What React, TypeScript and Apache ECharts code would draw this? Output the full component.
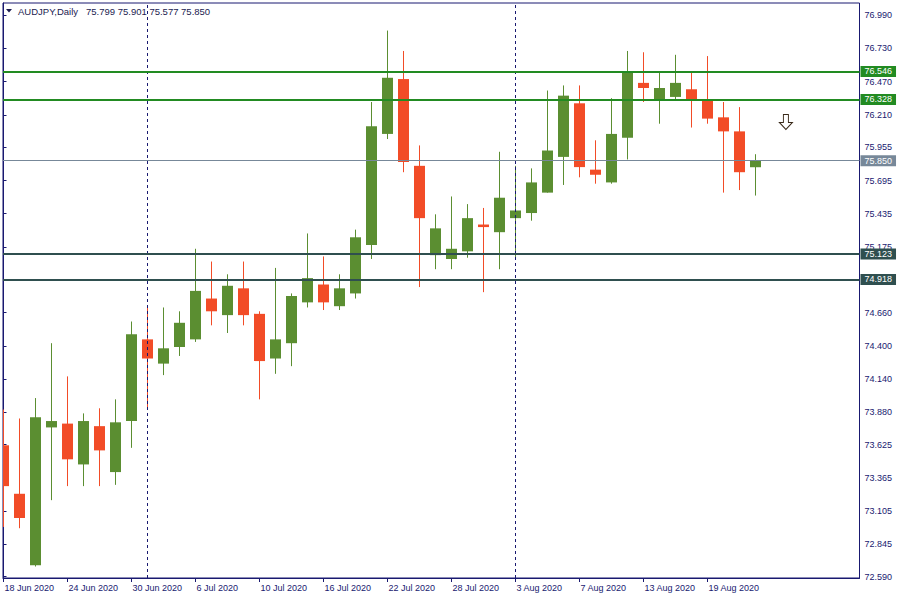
import React, { useEffect, useRef } from "react";
import * as echarts from "echarts";

const dates = [
  "18 Jun 2020", "19 Jun 2020", "22 Jun 2020", "23 Jun 2020", "24 Jun 2020", "25 Jun 2020", "26 Jun 2020",
  "29 Jun 2020", "30 Jun 2020", "1 Jul 2020", "2 Jul 2020", "3 Jul 2020",
  "6 Jul 2020", "7 Jul 2020", "8 Jul 2020", "9 Jul 2020", "10 Jul 2020",
  "13 Jul 2020", "14 Jul 2020", "15 Jul 2020", "16 Jul 2020", "17 Jul 2020",
  "20 Jul 2020", "21 Jul 2020", "22 Jul 2020", "23 Jul 2020", "24 Jul 2020",
  "27 Jul 2020", "28 Jul 2020", "29 Jul 2020", "30 Jul 2020", "31 Jul 2020",
  "3 Aug 2020", "4 Aug 2020", "5 Aug 2020", "6 Aug 2020", "7 Aug 2020",
  "10 Aug 2020", "11 Aug 2020", "12 Aug 2020", "13 Aug 2020", "14 Aug 2020",
  "17 Aug 2020", "18 Aug 2020", "19 Aug 2020", "20 Aug 2020", "21 Aug 2020",
  "24 Aug 2020",
];

const opens = [73.62, 73.24, 72.68, 73.76, 73.79, 73.47, 73.77, 73.41, 73.81, 74.45, 74.26, 74.39, 74.45, 74.77, 74.64, 74.85, 74.65, 74.30, 74.42, 74.74, 74.88, 74.71, 74.81, 75.19, 76.06, 76.49, 75.81, 75.11, 75.08, 75.14, 75.35, 75.29, 75.40, 75.44, 75.60, 75.88, 76.30, 75.78, 75.68, 76.03, 76.46, 76.33, 76.35, 76.41, 76.32, 76.19, 76.08, 75.799];
const highs = [73.90, 73.83, 73.99, 74.42, 74.16, 73.87, 73.91, 73.98, 74.59, 74.70, 74.70, 74.67, 75.16, 75.06, 74.96, 75.06, 74.67, 75.01, 74.81, 75.28, 75.10, 74.96, 75.31, 76.31, 76.87, 76.71, 75.97, 75.43, 75.57, 75.51, 75.48, 75.92, 75.81, 75.79, 76.40, 76.44, 76.44, 76.01, 76.34, 76.71, 76.70, 76.55, 76.68, 76.55, 76.67, 76.31, 76.27, 75.901];
const lows = [72.98, 72.97, 72.67, 73.19, 73.30, 73.30, 73.30, 73.31, 73.60, 73.91, 74.17, 74.32, 74.43, 74.56, 74.50, 74.56, 73.98, 74.18, 74.24, 74.70, 74.68, 74.68, 74.77, 75.08, 76.02, 75.76, 74.86, 75.00, 75.00, 75.09, 74.82, 75.00, 75.09, 75.38, 75.60, 75.66, 75.72, 75.67, 75.67, 75.86, 76.31, 76.14, 76.32, 76.11, 76.14, 75.60, 75.62, 75.577];
const closes = [73.30, 73.05, 73.84, 73.81, 73.51, 73.81, 73.58, 73.80, 74.49, 74.30, 74.38, 74.58, 74.83, 74.67, 74.87, 74.64, 74.28, 74.45, 74.79, 74.93, 74.74, 74.85, 75.25, 76.12, 76.50, 75.84, 75.40, 75.32, 75.16, 75.40, 75.33, 75.56, 75.46, 75.68, 75.93, 76.36, 75.80, 75.74, 76.06, 76.54, 76.42, 76.42, 76.46, 76.33, 76.18, 76.08, 75.76, 75.850];

const priceTicks = [72.59, 72.845, 73.105, 73.365, 73.625, 73.88, 74.14, 74.4, 74.66, 74.915, 75.175, 75.435, 75.695, 75.955, 76.21, 76.47, 76.73, 76.99];
const dateTickIdx = [0, 4, 8, 12, 16, 20, 24, 28, 32, 36, 40, 44];
const resistanceLevels = [76.546, 76.328];
const supportLevels = [75.123, 74.918];
const lastPrice = 75.85;
const separatorIdx = [9, 32];
const sellArrow = [48.9, 76.154];

const GREEN = "#5b8e31";
const RED = "#f24c27";
const NAVY = "#191970";
const FONT = "Liberation Sans";

function hLine(v: number, color: string, width: number) {
  return {
    yAxis: v,
    lineStyle: { color, width, type: "solid" },
    label: {
      show: true,
      position: "end",
      distance: 1,
      formatter: v.toFixed(3),
      backgroundColor: color,
      color: "#ffffff",
      padding: [1, 4, 1, 4],
      fontSize: 9,
      lineHeight: 9,
      fontFamily: FONT,
    },
  };
}

export default function App() {
  const ref = useRef<HTMLDivElement>(null);
  useEffect(() => {
    if (!ref.current) return;
    const chart = echarts.init(ref.current, null, { renderer: "svg" });
    const candleData = opens.map((o, i) => [i, o, closes[i], lows[i], highs[i]]);
    const option: any = {
      animation: false,
      backgroundColor: "#ffffff",
      grid: {
        left: 3,
        top: 3,
        right: 40.5,
        bottom: 22,
        show: true,
        borderColor: NAVY,
        borderWidth: 1,
        backgroundColor: "#ffffff",
      },
      xAxis: {
        type: "value",
        min: -0.03125,
        max: 53.5,
        axisLine: { show: true, lineStyle: { color: NAVY, width: 1 } },
        axisTick: { show: true, length: 4, lineStyle: { color: NAVY }, customValues: dateTickIdx },
        axisLabel: {
          customValues: dateTickIdx,
          formatter: (v: number) => dates[Math.round(v)] || "",
          align: "left",
          margin: 5,
          padding: [0, 0, 0, 1],
          color: NAVY,
          fontSize: 9,
          fontFamily: FONT,
        },
        splitLine: { show: false },
      },
      yAxis: {
        type: "value",
        position: "right",
        min: 72.58,
        max: 77.086,
        axisLine: { show: true, lineStyle: { color: NAVY, width: 1 } },
        axisTick: { show: true, length: 3, lineStyle: { color: NAVY }, customValues: priceTicks },
        axisLabel: {
          customValues: priceTicks,
          formatter: (v: number) => v.toFixed(3),
          margin: 5,
          color: NAVY,
          fontSize: 9,
          fontFamily: FONT,
        },
        splitLine: { show: false },
      },
      graphic: [
        { type: "polygon", shape: { points: [[6, 9], [12, 9], [9, 12.5]] }, style: { fill: "#1b1b50" } },
        { type: "text", x: 18, y: 11, style: { text: "AUDJPY,Daily", fill: "#1b1b50", font: `9.5px "${FONT}"`, verticalAlign: "middle" } },
        { type: "text", x: 86, y: 11, style: { text: "75.799 75.901 75.577 75.850", fill: "#1b1b50", font: `9.5px "${FONT}"`, verticalAlign: "middle" } },
      ],
      series: [
        {
          type: "line",
          data: [],
          z: 1,
          silent: true,
          markLine: {
            silent: true,
            symbol: ["none", "none"],
            animation: false,
            data: [
              ...separatorIdx.map((i) => ({ xAxis: i, lineStyle: { color: NAVY, width: 1, type: [3, 3] }, label: { show: false } })),
              hLine(lastPrice, "#778899", 1),
              ...resistanceLevels.map((v) => hLine(v, "#228b22", 2)),
              ...supportLevels.map((v) => hLine(v, "#2f4f4f", 2)),
            ],
          },
        },
        {
          type: "custom",
          z: 3,
          clip: true,
          silent: true,
          data: candleData,
          encode: { x: 0, y: [1, 2, 3, 4] },
          renderItem: (params: any, api: any) => {
            const i = api.value(0);
            const o = api.value(1);
            const c = api.value(2);
            const l = api.value(3);
            const h = api.value(4);
            const pO = api.coord([i, o]);
            const pC = api.coord([i, c]);
            const pL = api.coord([i, l]);
            const pH = api.coord([i, h]);
            const color = c >= o ? GREEN : RED;
            const cx = pO[0];
            const top = Math.min(pO[1], pC[1]);
            const bot = Math.max(pO[1], pC[1]);
            return {
              type: "group",
              children: [
                { type: "line", shape: { x1: cx, y1: pH[1], x2: cx, y2: pL[1] }, style: { stroke: color, lineWidth: 1 } },
                { type: "rect", shape: { x: cx - 5.5, y: top, width: 11, height: Math.max(bot - top, 2) }, style: { fill: color } },
              ],
            };
          },
        },
        {
          type: "scatter",
          z: 4,
          silent: true,
          data: [sellArrow],
          symbol: "path://M4,0 L9,0 L9,8 L13,8 L6.5,15 L0,8 L4,8 Z",
          symbolSize: [13, 15],
          itemStyle: { color: "#ffffff", borderColor: "#3a2a1a", borderWidth: 1, opacity: 1 },
        },
      ],
    };
    chart.setOption(option);
    return () => chart.dispose();
  }, []);
  return (
    <div
      ref={ref}
      style={{ position: "absolute", left: 0, top: 0, width: 900, height: 600, background: "#fff" }}
    />
  );
}
